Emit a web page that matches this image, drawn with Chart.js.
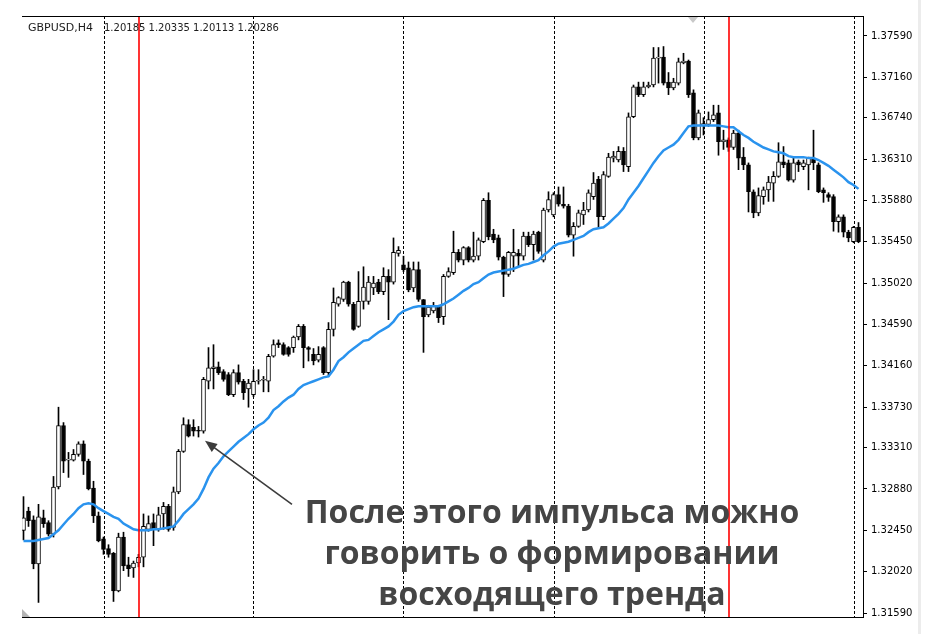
<!DOCTYPE html>
<html lang="ru">
<head>
<meta charset="UTF-8">
<title>GBPUSD H4</title>
<style>
  html, body { margin: 0; padding: 0; background: #fff; }
  #wrap { width: 937px; height: 634px; }
</style>
</head>
<body>
<div id="wrap"><canvas id="chart" width="937" height="634"></canvas></div>
<script src="https://cdn.jsdelivr.net/npm/chart.js"></script>
<script>
// H4 candles (oldest first)
const opens = [
  1.3245, 1.3265, 1.3256, 1.3210, 1.3258, 1.3253, 1.3241, 1.3290, 1.3354, 1.3318,
  1.3318, 1.3324, 1.3335, 1.3317, 1.3289, 1.3260, 1.3236, 1.3226, 1.3221, 1.3182,
  1.3238, 1.3209, 1.3206, 1.3211, 1.3217, 1.3246, 1.3253, 1.3246, 1.3262, 1.3270,
  1.3248, 1.3285, 1.3327, 1.3355, 1.3352, 1.3349, 1.3348, 1.3400, 1.3413, 1.3415,
  1.3410, 1.3407, 1.3386, 1.3409, 1.3400, 1.3392, 1.3386, 1.3400, 1.3401, 1.3400,
  1.3426, 1.3440, 1.3438, 1.3435, 1.3435, 1.3446, 1.3457, 1.3435, 1.3428, 1.3422,
  1.3435, 1.3409, 1.3454, 1.3480, 1.3485, 1.3503, 1.3480, 1.3457, 1.3483, 1.3483,
  1.3497, 1.3503, 1.3493, 1.3509, 1.3503, 1.3533, 1.3521, 1.3518, 1.3497, 1.3516,
  1.3485, 1.3469, 1.3473, 1.3478, 1.3467, 1.3509, 1.3513, 1.3534, 1.3526, 1.3539,
  1.3526, 1.3530, 1.3545, 1.3588, 1.3553, 1.3549, 1.3529, 1.3511, 1.3530, 1.3533,
  1.3530, 1.3551, 1.3542, 1.3555, 1.3526, 1.3578, 1.3573, 1.3594, 1.3584, 1.3582,
  1.3552, 1.3561, 1.3573, 1.3578, 1.3592, 1.3610, 1.3571, 1.3613, 1.3632, 1.3630,
  1.3639, 1.3623, 1.3675, 1.3706, 1.3698, 1.3706, 1.3708, 1.3736, 1.3737, 1.3711,
  1.3705, 1.3710, 1.3731, 1.3733, 1.3700, 1.3653, 1.3666, 1.3667, 1.3672, 1.3679,
  1.3649, 1.3651, 1.3643, 1.3658, 1.3633, 1.3625, 1.3597, 1.3575, 1.3592, 1.3599,
  1.3606, 1.3613, 1.3628, 1.3627, 1.3609, 1.3628, 1.3623, 1.3625, 1.3632, 1.3625,
  1.3599, 1.3594, 1.3592, 1.3566, 1.3571, 1.3555, 1.3545, 1.3560
];
const highs = [
  1.3280, 1.3269, 1.3260, 1.3272, 1.3266, 1.3255, 1.3301, 1.3373, 1.3357, 1.3326,
  1.3329, 1.3337, 1.3338, 1.3319, 1.3296, 1.3264, 1.3238, 1.3230, 1.3222, 1.3242,
  1.3243, 1.3217, 1.3213, 1.3220, 1.3262, 1.3260, 1.3262, 1.3269, 1.3274, 1.3272,
  1.3290, 1.3329, 1.3362, 1.3360, 1.3360, 1.3353, 1.3404, 1.3435, 1.3438, 1.3420,
  1.3412, 1.3409, 1.3412, 1.3417, 1.3402, 1.3402, 1.3412, 1.3412, 1.3405, 1.3428,
  1.3443, 1.3443, 1.3440, 1.3436, 1.3447, 1.3459, 1.3459, 1.3436, 1.3434, 1.3436,
  1.3436, 1.3461, 1.3497, 1.3488, 1.3504, 1.3504, 1.3482, 1.3514, 1.3519, 1.3509,
  1.3509, 1.3506, 1.3518, 1.3516, 1.3549, 1.3540, 1.3530, 1.3524, 1.3524, 1.3524,
  1.3485, 1.3479, 1.3482, 1.3479, 1.3511, 1.3518, 1.3556, 1.3537, 1.3540, 1.3540,
  1.3555, 1.3549, 1.3590, 1.3596, 1.3558, 1.3552, 1.3530, 1.3535, 1.3558, 1.3537,
  1.3555, 1.3555, 1.3556, 1.3556, 1.3580, 1.3597, 1.3596, 1.3602, 1.3602, 1.3584,
  1.3565, 1.3578, 1.3586, 1.3599, 1.3617, 1.3613, 1.3618, 1.3637, 1.3639, 1.3644,
  1.3643, 1.3679, 1.3708, 1.3711, 1.3711, 1.3711, 1.3747, 1.3747, 1.3748, 1.3721,
  1.3715, 1.3736, 1.3741, 1.3734, 1.3703, 1.3682, 1.3674, 1.3680, 1.3687, 1.3687,
  1.3661, 1.3653, 1.3661, 1.3661, 1.3643, 1.3627, 1.3599, 1.3601, 1.3602, 1.3613,
  1.3618, 1.3648, 1.3644, 1.3630, 1.3632, 1.3630, 1.3630, 1.3633, 1.3661, 1.3627,
  1.3601, 1.3596, 1.3594, 1.3573, 1.3573, 1.3557, 1.3561, 1.3565
];
const lows = [
  1.3235, 1.3249, 1.3205, 1.3170, 1.3248, 1.3239, 1.3238, 1.3288, 1.3305, 1.3300,
  1.3317, 1.3322, 1.3303, 1.3287, 1.3253, 1.3233, 1.3220, 1.3217, 1.3171, 1.3181,
  1.3203, 1.3197, 1.3196, 1.3207, 1.3207, 1.3244, 1.3229, 1.3244, 1.3246, 1.3244,
  1.3245, 1.3283, 1.3326, 1.3342, 1.3343, 1.3342, 1.3346, 1.3392, 1.3392, 1.3407,
  1.3400, 1.3385, 1.3384, 1.3397, 1.3381, 1.3373, 1.3384, 1.3397, 1.3389, 1.3389,
  1.3425, 1.3435, 1.3427, 1.3426, 1.3430, 1.3443, 1.3414, 1.3421, 1.3417, 1.3420,
  1.3407, 1.3405, 1.3447, 1.3478, 1.3483, 1.3478, 1.3453, 1.3456, 1.3475, 1.3480,
  1.3490, 1.3491, 1.3490, 1.3464, 1.3501, 1.3530, 1.3514, 1.3493, 1.3493, 1.3483,
  1.3430, 1.3467, 1.3471, 1.3461, 1.3459, 1.3508, 1.3511, 1.3524, 1.3521, 1.3524,
  1.3524, 1.3526, 1.3544, 1.3547, 1.3544, 1.3526, 1.3488, 1.3509, 1.3514, 1.3519,
  1.3526, 1.3540, 1.3526, 1.3533, 1.3524, 1.3576, 1.3571, 1.3582, 1.3580, 1.3550,
  1.3530, 1.3560, 1.3563, 1.3576, 1.3589, 1.3560, 1.3568, 1.3612, 1.3628, 1.3628,
  1.3618, 1.3618, 1.3674, 1.3696, 1.3696, 1.3705, 1.3706, 1.3710, 1.3708, 1.3698,
  1.3703, 1.3708, 1.3730, 1.3695, 1.3651, 1.3651, 1.3656, 1.3665, 1.3670, 1.3635,
  1.3641, 1.3639, 1.3641, 1.3620, 1.3620, 1.3576, 1.3570, 1.3572, 1.3584, 1.3587,
  1.3587, 1.3612, 1.3622, 1.3608, 1.3607, 1.3618, 1.3620, 1.3599, 1.3620, 1.3596,
  1.3586, 1.3587, 1.3556, 1.3555, 1.3550, 1.3545, 1.3544, 1.3544
];
const closes = [
  1.3258, 1.3255, 1.3210, 1.3259, 1.3252, 1.3241, 1.3290, 1.3354, 1.3317, 1.3319,
  1.3324, 1.3335, 1.3317, 1.3288, 1.3260, 1.3234, 1.3225, 1.3220, 1.3182, 1.3238,
  1.3208, 1.3205, 1.3211, 1.3217, 1.3249, 1.3252, 1.3246, 1.3261, 1.3270, 1.3246,
  1.3285, 1.3327, 1.3355, 1.3343, 1.3348, 1.3348, 1.3402, 1.3414, 1.3415, 1.3409,
  1.3402, 1.3386, 1.3409, 1.3399, 1.3388, 1.3398, 1.3400, 1.3401, 1.3402, 1.3426,
  1.3438, 1.3438, 1.3428, 1.3428, 1.3446, 1.3457, 1.3435, 1.3433, 1.3421, 1.3428,
  1.3409, 1.3454, 1.3482, 1.3487, 1.3503, 1.3480, 1.3454, 1.3483, 1.3498, 1.3503,
  1.3502, 1.3493, 1.3509, 1.3503, 1.3534, 1.3536, 1.3516, 1.3495, 1.3516, 1.3485,
  1.3467, 1.3477, 1.3479, 1.3466, 1.3509, 1.3514, 1.3534, 1.3526, 1.3539, 1.3526,
  1.3530, 1.3547, 1.3588, 1.3550, 1.3547, 1.3529, 1.3511, 1.3534, 1.3534, 1.3530,
  1.3551, 1.3542, 1.3553, 1.3535, 1.3578, 1.3589, 1.3594, 1.3584, 1.3582, 1.3552,
  1.3561, 1.3575, 1.3578, 1.3596, 1.3606, 1.3571, 1.3615, 1.3633, 1.3634, 1.3639,
  1.3625, 1.3675, 1.3706, 1.3698, 1.3706, 1.3708, 1.3736, 1.3737, 1.3710, 1.3705,
  1.3711, 1.3732, 1.3733, 1.3698, 1.3653, 1.3679, 1.3668, 1.3672, 1.3677, 1.3649,
  1.3651, 1.3643, 1.3658, 1.3632, 1.3625, 1.3597, 1.3575, 1.3593, 1.3599, 1.3607,
  1.3613, 1.3628, 1.3625, 1.3609, 1.3627, 1.3625, 1.3627, 1.3632, 1.3627, 1.3597,
  1.3596, 1.3591, 1.3566, 1.3571, 1.3555, 1.3549, 1.3560, 1.3545
];
// moving average (blue line)
const maValues = [
  1.3234, 1.3234, 1.3234, 1.3235, 1.3236, 1.3237, 1.3241, 1.3245, 1.3251, 1.3257,
  1.3262, 1.3268, 1.3272, 1.3273, 1.3272, 1.3268, 1.3265, 1.3262, 1.3259, 1.3257,
  1.3252, 1.3249, 1.3246, 1.3245, 1.3245, 1.3245, 1.3246, 1.3246, 1.3247, 1.3248,
  1.3249, 1.3255, 1.3262, 1.3267, 1.3272, 1.3278, 1.3288, 1.3300, 1.3309, 1.3315,
  1.3322, 1.3327, 1.3332, 1.3337, 1.3341, 1.3345, 1.3350, 1.3354, 1.3357, 1.3362,
  1.3370, 1.3374, 1.3379, 1.3383, 1.3386, 1.3392, 1.3396, 1.3398, 1.3400, 1.3402,
  1.3404, 1.3405, 1.3412, 1.3421, 1.3425, 1.3430, 1.3434, 1.3438, 1.3442, 1.3443,
  1.3447, 1.3451, 1.3454, 1.3457, 1.3462, 1.3469, 1.3473, 1.3475, 1.3477, 1.3478,
  1.3478, 1.3478, 1.3478, 1.3478, 1.3480, 1.3483, 1.3486, 1.3490, 1.3494, 1.3497,
  1.3501, 1.3503, 1.3507, 1.3511, 1.3513, 1.3514, 1.3515, 1.3516, 1.3517, 1.3519,
  1.3521, 1.3522, 1.3524, 1.3526, 1.3531, 1.3535, 1.3540, 1.3543, 1.3544, 1.3545,
  1.3547, 1.3549, 1.3551, 1.3555, 1.3558, 1.3559, 1.3560, 1.3564, 1.3569, 1.3574,
  1.3580, 1.3589, 1.3596, 1.3603, 1.3611, 1.3619, 1.3627, 1.3634, 1.3640, 1.3643,
  1.3646, 1.3651, 1.3658, 1.3665, 1.3666, 1.3666, 1.3666, 1.3666, 1.3666, 1.3666,
  1.3665, 1.3664, 1.3664, 1.3660, 1.3656, 1.3653, 1.3649, 1.3646, 1.3643, 1.3641,
  1.3639, 1.3638, 1.3637, 1.3634, 1.3633, 1.3633, 1.3633, 1.3632, 1.3632, 1.3630,
  1.3627, 1.3624, 1.3620, 1.3616, 1.3612, 1.3607, 1.3604, 1.3600
];
const tickValues = [
  1.37590, 1.37160, 1.36740, 1.36310, 1.35880, 1.35450, 1.35020, 1.34590,
  1.34160, 1.33730, 1.33310, 1.32880, 1.32450, 1.32020, 1.31590
];
const separatorBars = [16, 46, 76, 106, 136, 166];   // dotted period separators
const markerBars = [23, 141];                        // red vertical lines
const headerSymbol = 'GBPUSD,H4';
const headerPrices = '1.20185 1.20335 1.20113 1.20286';
const noteLines = ['После этого импульса можно', 'говорить о формировании', 'восходящего тренда'];
const arrowFrom = { bar: 53.7, price: 1.3272 };
const arrowTo = { bar: 36.3, price: 1.3338 };

const bodyColors = opens.map((o, i) => closes[i] >= o ? '#ffffff' : '#000000');

const overlay = {
  id: 'overlay',
  beforeDatasetsDraw(chart) {
    const { ctx, chartArea, scales } = chart;
    ctx.save();
    ctx.strokeStyle = '#000';
    ctx.lineWidth = 1;
    ctx.setLineDash([3, 2]);
    separatorBars.forEach(b => {
      const x = Math.round(scales.x.getPixelForValue(b)) + 0.5;
      ctx.beginPath();
      ctx.moveTo(x, chartArea.top);
      ctx.lineTo(x, chartArea.bottom);
      ctx.stroke();
    });
    ctx.restore();
  },
  afterDatasetsDraw(chart) {
    const { ctx, chartArea, scales } = chart;
    ctx.save();
    ctx.strokeStyle = '#ff0000';
    ctx.lineWidth = 1.6;
    markerBars.forEach(b => {
      const x = Math.round(scales.x.getPixelForValue(b));
      ctx.beginPath();
      ctx.moveTo(x, chartArea.top);
      ctx.lineTo(x, chartArea.bottom);
      ctx.stroke();
    });
    ctx.restore();
  },
  afterDraw(chart) {
    const { ctx, chartArea, scales } = chart;
    ctx.save();

    // frame top / bottom
    ctx.strokeStyle = '#000';
    ctx.lineWidth = 1;
    ctx.beginPath();
    ctx.moveTo(chartArea.left, chartArea.top + 0.5);
    ctx.lineTo(chartArea.right + 1, chartArea.top + 0.5);
    ctx.moveTo(chartArea.left, chartArea.bottom + 0.5);
    ctx.lineTo(chartArea.right + 1, chartArea.bottom + 0.5);
    ctx.stroke();

    // little grey markers
    ctx.fillStyle = '#b4b4b4';
    ctx.beginPath();
    ctx.moveTo(chartArea.left, chartArea.bottom - 8);
    ctx.lineTo(chartArea.left, chartArea.bottom);
    ctx.lineTo(chartArea.left + 8, chartArea.bottom);
    ctx.closePath();
    ctx.fill();
    ctx.fillStyle = '#c8c8c8';
    ctx.beginPath();
    ctx.moveTo(688, chartArea.top + 1);
    ctx.lineTo(698, chartArea.top + 1);
    ctx.lineTo(693, chartArea.top + 7);
    ctx.closePath();
    ctx.fill();

    // window edge at the right
    ctx.fillStyle = '#ececec';
    ctx.fillRect(918, 0, 3, 634);

    // header
    ctx.fillStyle = '#1c1c1c';
    ctx.textBaseline = 'alphabetic';
    ctx.textAlign = 'left';
    ctx.font = '11px "DejaVu Sans"';
    ctx.fillText(headerSymbol, 28, 31);
    ctx.font = '10px "DejaVu Sans"';
    ctx.fillText(headerPrices, 104, 31);

    // arrow
    const x1 = scales.x.getPixelForValue(arrowFrom.bar), y1 = scales.y.getPixelForValue(arrowFrom.price);
    const x2 = scales.x.getPixelForValue(arrowTo.bar), y2 = scales.y.getPixelForValue(arrowTo.price);
    const ang = Math.atan2(y2 - y1, x2 - x1);
    ctx.strokeStyle = '#3c3c3c';
    ctx.fillStyle = '#3c3c3c';
    ctx.lineWidth = 1.6;
    ctx.beginPath();
    ctx.moveTo(x1, y1);
    ctx.lineTo(x2 - 8 * Math.cos(ang), y2 - 8 * Math.sin(ang));
    ctx.stroke();
    ctx.beginPath();
    ctx.moveTo(x2, y2);
    ctx.lineTo(x2 - 12 * Math.cos(ang) + 5 * Math.sin(ang), y2 - 12 * Math.sin(ang) - 5 * Math.cos(ang));
    ctx.lineTo(x2 - 12 * Math.cos(ang) - 5 * Math.sin(ang), y2 - 12 * Math.sin(ang) + 5 * Math.cos(ang));
    ctx.closePath();
    ctx.fill();

    // note text
    ctx.font = 'bold 32px "Open Sans"';
    ctx.textAlign = 'center';
    ctx.fillStyle = '#454545';
    noteLines.forEach((line, i) => {
      ctx.fillText(line, 552, 523 + i * 41);
    });

    ctx.restore();
  }
};

new Chart(document.getElementById('chart'), {
  data: {
    datasets: [
      {
        type: 'bar',
        label: 'wicks',
        data: lows.map((l, i) => ({ x: i, y: [l, highs[i]] })),
        backgroundColor: '#000',
        barThickness: 1,
        grouped: false,
        order: 3
      },
      {
        type: 'bar',
        label: 'bodies',
        data: opens.map((o, i) => ({ x: i, y: [o, closes[i]] })),
        backgroundColor: bodyColors,
        borderColor: '#000',
        borderWidth: 1,
        borderSkipped: false,
        barThickness: 4,
        minBarLength: 1,
        grouped: false,
        order: 2
      },
      {
        type: 'line',
        label: 'MA',
        data: maValues.map((v, i) => ({ x: i, y: v })),
        borderColor: '#2a93ee',
        borderWidth: 2.5,
        pointRadius: 0,
        tension: 0,
        order: 1
      }
    ]
  },
  options: {
    responsive: false,
    animation: false,
    devicePixelRatio: 1,
    layout: { padding: { left: 22, top: 16, right: 0, bottom: 17 } },
    plugins: { legend: { display: false }, tooltip: { enabled: false } },
    scales: {
      x: { type: 'linear', min: -0.3, max: 167.9, offset: false, display: false },
      y: {
        position: 'right',
        min: 1.315485,
        max: 1.377976,
        afterBuildTicks: scale => { scale.ticks = tickValues.map(v => ({ value: v })); },
        afterFit: scale => { scale.width = 74; },
        ticks: {
          callback: v => v.toFixed(5),
          font: { family: 'DejaVu Sans', size: 10 },
          color: '#000',
          padding: 4,
          autoSkip: false
        },
        grid: { drawOnChartArea: false, drawTicks: true, tickLength: 4, color: '#000' },
        border: { display: true, color: '#000' }
      }
    }
  },
  plugins: [overlay]
});
</script>
</body>
</html>
